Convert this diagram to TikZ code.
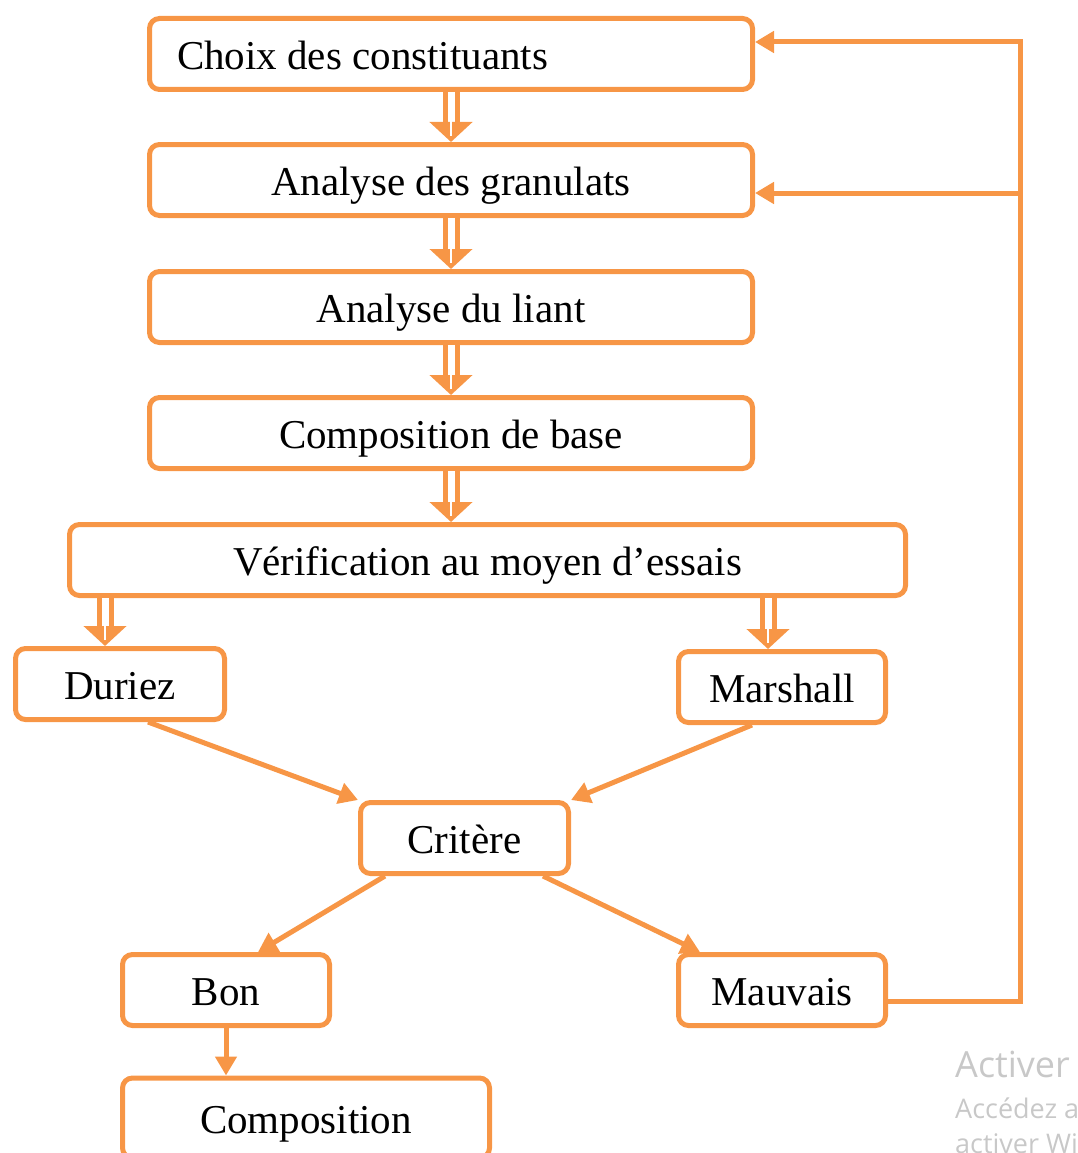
\documentclass[tikz,border=0pt]{standalone}
\usepackage{fontspec}
\setmainfont{Liberation Serif}
\newfontfamily\wmfont{Open Sans}
\usetikzlibrary{arrows.meta}
\definecolor{flow}{RGB}{247,150,70}
\definecolor{wmgray}{RGB}{200,200,200}
% double-stroke arrow with a slit running into its head
\newcommand{\dblarr}[2]{%
  \draw[dblarrow] (#1) -- (#2);
  \draw[white, line width=2.5pt] ([yshift=21pt]#2) -- ([yshift=6pt]#2);}
\begin{document}
\begin{tikzpicture}[x=1pt,y=-1pt,
  box/.style={draw=flow, line width=5pt, rounded corners=10pt, inner sep=0pt,
    minimum height=71pt, text height=31pt, text depth=0pt,
    font=\fontsize{41}{41}\selectfont, text=black},
  dblarrow/.style={draw=flow, line width=5pt, double=white, double distance=7pt,
    -{Triangle[length=20pt,width=42pt]}},
  arr/.style={draw=flow, line width=5pt, line join=miter,
    -{Triangle[length=19pt,width=21pt]}},
  wm/.style={text=wmgray, anchor=base west, inner sep=0pt}]
\useasboundingbox (0,0) rectangle (1077,1153);
\begin{scope}
\clip (0,0) rectangle (1077,1153);

% process boxes
\node[box, minimum width=603pt] (choix) at (451,54) {\makebox[548pt][l]{Choix des constituants}};
\node[box, minimum width=603pt] (gran) at (451,180) {Analyse des granulats};
\node[box, minimum width=603pt] (liant) at (451,307) {Analyse du liant};
\node[box, minimum width=603pt] (base) at (451,433) {Composition de base};
\node[box, minimum width=836pt] (verif) at (487.5,560) {V\'erification au moyen d’essais};
\node[box, minimum width=209pt] (duriez) at (120,684) {Duriez};
\node[box, minimum width=207pt] (marshall) at (782,687) {Marshall};
\node[box, minimum width=208pt] (critere) at (464.5,838) {Crit\`ere};
\node[box, minimum width=207pt] (bon) at (226,990) {Bon};
\node[box, minimum width=207pt] (mauvais) at (782,990) {Mauvais};
\node[box, minimum width=367pt, minimum height=80pt] (compo) at (306,1118) {Composition};

% arrow end points
\coordinate (baseV) at (base.south |- verif.north);
\coordinate (durT) at ([xshift=-15pt]duriez.north);
\coordinate (durS) at (durT |- verif.south);
\coordinate (marT) at ([xshift=-14pt]marshall.north);
\coordinate (marS) at (marT |- verif.south);

% main chain
\dblarr{choix.south}{gran.north}
\dblarr{gran.south}{liant.north}
\dblarr{liant.south}{base.north}
\dblarr{base.south}{baseV}
\dblarr{durS}{durT}
\dblarr{marS}{marT}

% test results to criterion
\draw[arr] ([xshift=28pt]duriez.south) -- (critere.north west);
\draw[arr] ([xshift=-30pt]marshall.south) -- (critere.north east);
\draw[arr] ([xshift=27pt]critere.south west) -- ([xshift=32pt]bon.north);
\draw[arr] ([xshift=-28pt]critere.south east) -- ([xshift=24pt]mauvais.north west);
\draw[arr] (bon.south) -- (compo.north -| bon.south);

% feedback loop
\coordinate (loopB) at (1020,1001);
\coordinate (loopM) at (1020,193);
\coordinate (loopT) at (1020,42);
\draw[arr] ([yshift=-11pt]mauvais.east) -- (loopB) -- (loopT) -- ([yshift=12pt]choix.east);
\draw[arr] (loopM) -- ([yshift=-13pt]gran.east);

% activation notice
\node[wm, font=\wmfont\fontsize{36}{36}\selectfont] (wm1) at (955,1077) {Activer Windows};
\node[wm, font=\wmfont\fontsize{27}{27}\selectfont] (wm2) at (955,1118) {Accédez aux paramètres pour};
\node[wm, font=\wmfont\fontsize{27}{27}\selectfont] (wm3) at (955,1153) {activer Windows.};
\end{scope}
\end{tikzpicture}
\end{document}
